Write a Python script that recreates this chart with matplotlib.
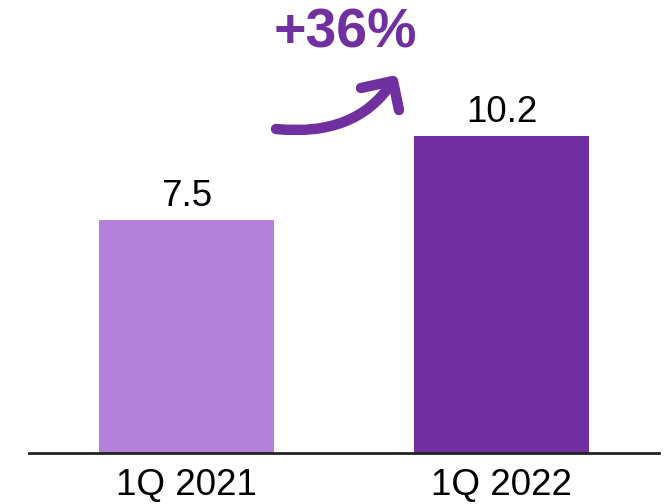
import matplotlib.pyplot as plt
from matplotlib.path import Path
from matplotlib.patches import PathPatch
from matplotlib.lines import Line2D

plt.rcParams["font.family"] = ["Liberation Sans", "DejaVu Sans"]

# Quarterly values
quarters = ["1Q 2021", "1Q 2022"]
values = [7.5, 10.2]
bar_colors = ["#B381DA", "#7030A0"]
growth_label = "+36%"

W, H = 669, 504
fig = plt.figure(figsize=(W / 100, H / 100), dpi=100)
ax = fig.add_axes([29 / W, 1 - 453 / H, 630 / W, 453 / H])

bars = ax.bar(range(len(values)), values, width=0.556, color=bar_colors)
for bar, v in zip(bars, values):
    ax.annotate(
        f"{v:.1f}",
        (bar.get_x() + bar.get_width() / 2, v),
        xytext=(0, 4),
        textcoords="offset points",
        ha="center",
        va="bottom",
        fontsize=26.5,
    )

ax.set_xlim(-0.5, 1.5)
ax.set_ylim(0, 14.56)
ax.set_xticks(range(len(quarters)))
ax.set_xticklabels(quarters, fontsize=26.5)
ax.tick_params(axis="x", length=0, pad=11)
ax.set_yticks([])
for side in ["left", "right", "top"]:
    ax.spines[side].set_visible(False)
ax.spines["bottom"].set_linewidth(2)
ax.spines["bottom"].set_color("#222222")


def px(x, y):
    return (x / W, 1 - y / H)


# Growth arrow between the bars
purple = "#7030A0"
curve = Path([px(276, 129), px(355, 137), px(391, 84)],
             [Path.MOVETO, Path.CURVE3, Path.CURVE3])
fig.patches.append(PathPatch(curve, transform=fig.transFigure, fill=False,
                             edgecolor=purple, lw=7.5, capstyle="round"))
head = [px(361, 88), px(393, 81), px(399, 110)]
fig.lines.append(Line2D([p[0] for p in head], [p[1] for p in head],
                        transform=fig.transFigure, color=purple, lw=7.5,
                        solid_capstyle="round", solid_joinstyle="round"))

fig.text(345 / W, 1 - 33 / H, growth_label, ha="center", va="center",
         fontsize=40, fontweight="bold", color=purple)

fig.savefig("out.png", dpi=100)
